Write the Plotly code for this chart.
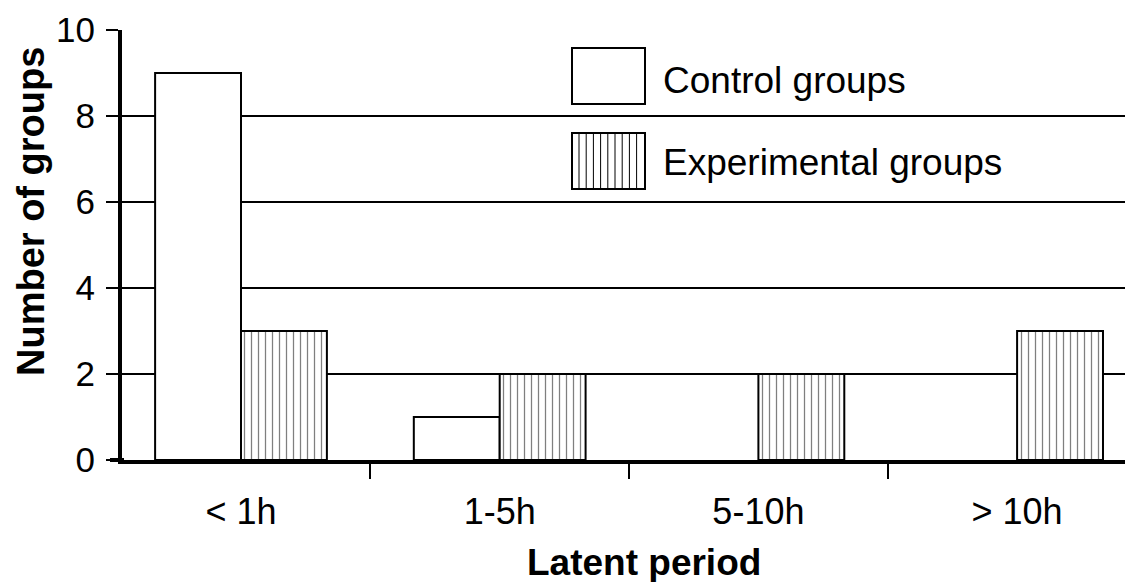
import plotly.graph_objects as go

categories = ["< 1h", "1-5h", "5-10h", "> 10h"]
control_values = [9, 1, 0, 0]
experimental_values = [3, 2, 2, 3]
series_names = ["Control groups", "Experimental groups"]
y_ticks = [0, 2, 4, 6, 8, 10]

OFF = 8  # default page body margin
W, H = 1133 - OFF, 582 - OFF
L, R, T, B = 122 - OFF, 0, 30 - OFF, 582 - 460
PW, PH = W - L - R, H - T - B

def px(x):
    return (x - OFF - L) / PW

def py(y):
    return (H - B - (y - OFF)) / PH

FONT = "Liberation Sans, Arial, Helvetica, sans-serif"

def nz(vals):
    return [v if v else None for v in vals]

fig = go.Figure()
fig.add_trace(go.Bar(
    x=categories, y=nz(control_values), name=series_names[0],
    marker=dict(color="white", line=dict(color="black", width=2)),
    showlegend=False,
))
fig.add_trace(go.Bar(
    x=categories, y=nz(experimental_values), name=series_names[1],
    marker=dict(color="white", line=dict(color="black", width=2),
                pattern=dict(shape="|", size=7, solidity=0.18,
                             fgcolor="black", bgcolor="white", fillmode="overlay")),
    showlegend=False,
))

shapes = []
shapes.append(dict(type="line", xref="paper", yref="paper",
                   x0=px(110), x1=px(124), y0=0, y1=0,
                   line=dict(color="black", width=4)))
bx0, bx1 = 572, 645
shapes.append(dict(type="rect", xref="paper", yref="paper",
                   x0=px(bx0), x1=px(bx1), y0=py(104), y1=py(48),
                   line=dict(color="black", width=2), fillcolor="white"))
shapes.append(dict(type="rect", xref="paper", yref="paper",
                   x0=px(bx0), x1=px(bx1), y0=py(189), y1=py(133),
                   line=dict(color="black", width=2), fillcolor="white"))
xx = bx0 + 7
while xx < bx1 - 3:
    shapes.append(dict(type="line", xref="paper", yref="paper",
                       x0=px(xx), x1=px(xx), y0=py(189), y1=py(133),
                       line=dict(color="black", width=1)))
    xx += 7.2

annotations = [
    dict(text=series_names[0], xref="paper", yref="paper", x=px(661), y=py(80),
         xanchor="left", yanchor="middle", showarrow=False,
         font=dict(family=FONT, size=37, color="black")),
    dict(text=series_names[1], xref="paper", yref="paper", x=px(661), y=py(162),
         xanchor="left", yanchor="middle", showarrow=False,
         font=dict(family=FONT, size=37, color="black")),
    dict(text="<b>Latent period</b>", xref="paper", yref="paper", x=px(644), y=py(562),
         xanchor="center", yanchor="middle", showarrow=False,
         font=dict(family=FONT, size=37, color="black")),
    dict(text="<b>Number of groups</b>", xref="paper", yref="paper", x=px(31), y=py(212),
         xanchor="center", yanchor="middle", showarrow=False, textangle=-90,
         font=dict(family=FONT, size=38, color="black")),
]

fig.update_layout(
    width=W, height=H,
    margin=dict(l=L, r=R, t=T, b=B, pad=0),
    paper_bgcolor="white", plot_bgcolor="white",
    barmode="group", bargap=0.336, bargroupgap=0,
    showlegend=False,
    shapes=shapes, annotations=annotations,
    font=dict(family=FONT, size=36, color="black"),
)
fig.update_xaxes(
    type="category", range=[-0.46, 3.448],
    showline=True, linecolor="black", linewidth=4,
    ticks="outside", tickson="boundaries", ticklen=15, tickwidth=2, tickcolor="black",
    showgrid=False, zeroline=False,
    tickfont=dict(family=FONT, size=36, color="black"),
    ticklabelstandoff=17,
)
fig.update_yaxes(
    range=[0, 10], tickvals=y_ticks,
    showline=True, linecolor="black", linewidth=4,
    ticks="outside", ticklen=12, tickwidth=2, tickcolor="black",
    showgrid=True, gridcolor="black", gridwidth=2,
    zeroline=False,
    tickfont=dict(family=FONT, size=35, color="black"),
    ticklabelstandoff=4,
)

fig.write_html("out.html")
